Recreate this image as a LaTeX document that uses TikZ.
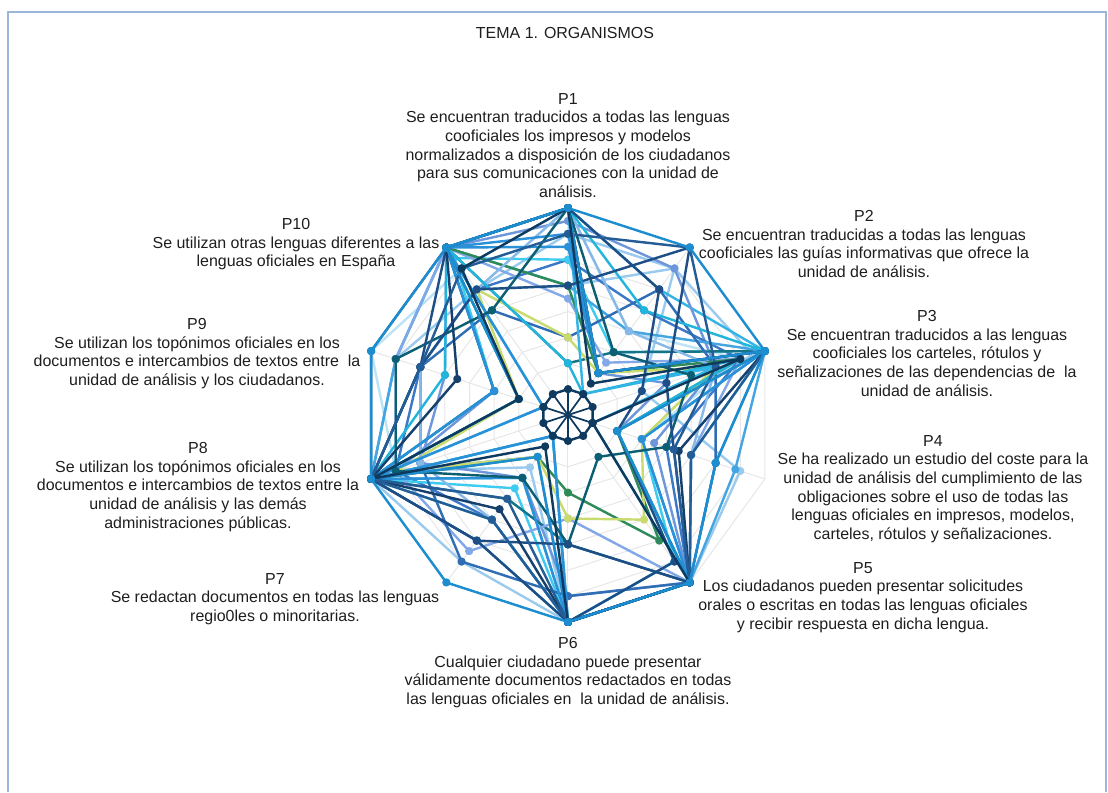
\documentclass[tikz,border=0pt]{standalone}
\usepackage{fontspec}
\setmainfont{Liberation Sans}
\usepackage{tikz}

\definecolor{navyA}{HTML}{0F3A5F}
\definecolor{navyB}{HTML}{1D4F86}
\definecolor{navyC}{HTML}{16406B}
\definecolor{darkA}{HTML}{245C96}
\definecolor{midA}{HTML}{1C8DCF}
\definecolor{midB}{HTML}{2A90D8}
\definecolor{skyA}{HTML}{34B4E4}
\definecolor{skyB}{HTML}{45A5E0}
\definecolor{cyanA}{HTML}{3DCBEF}
\definecolor{cyanB}{HTML}{22B5DC}
\definecolor{lightB}{HTML}{9ACBEE}
\definecolor{lightC}{HTML}{86B9E8}
\definecolor{pale}{HTML}{BCE3F6}
\definecolor{periA}{HTML}{6E96DB}
\definecolor{periB}{HTML}{82A8E8}
\definecolor{steelA}{HTML}{3C78C8}
\definecolor{blueC}{HTML}{2F6DB5}
\definecolor{tealA}{HTML}{157488}
\definecolor{tealB}{HTML}{0C5E72}
\definecolor{greenA}{HTML}{2E8B57}
\definecolor{ygreen}{HTML}{C9DA6E}
\definecolor{gridgray}{HTML}{E6E6E6}
\definecolor{frameblue}{HTML}{9AB7DB}
\definecolor{txtgray}{HTML}{1E1E1E}

% one level of the scale (8 levels)
\newcommand{\nivel}{25.875}
% one answer line: colour, ten values P1..P10
\newcommand{\radarserie}[2]{%
  \draw[serie,#1] plot[mark=*,variable=\k,samples at={0,...,9}]
     ({90-36*\k}:{\nivel*array({#2},\k)}) -- cycle;}

\begin{document}
\begin{tikzpicture}[x=0.35mm,y=0.35mm,
  serie/.style={line width=0.85mm,line join=round,mark size=1mm},
  rejilla/.style={draw=gridgray,line width=0.35mm},
  rotulo/.style={anchor=north,align=center,inner sep=0pt,text=txtgray,
    font=\fontsize{15.9}{18.6}\selectfont},
  marco/.style={draw=frameblue,line width=0.5mm}]
\useasboundingbox (-568,-377) rectangle (540,415);

% frame
\draw[marco] (-560,-377) |- (538,403) -- (538,-377);

% grid
\foreach \l in {1,...,8}
  \draw[rejilla] (90:{\l*\nivel}) \foreach \k in {1,...,9}{ -- ({90-36*\k}:{\l*\nivel})} -- cycle;
\foreach \k in {0,...,9}
  \draw[rejilla] (0,0) -- ({90-36*\k}:207);

% answers
\radarserie{pale}{8,4,7,3,8,8,2,7,8,7}
\radarserie{lightB}{7,7,7.5,2,7,8,2.5,7,7,6}
\radarserie{lightB}{5,7,3,7,8,8,7,8,6,6}
\radarserie{skyA}{8,6,8,3,8,8,3,8,7,8}
\radarserie{periA}{7.5,7,6,3.5,8,7,3,6,5,8}
\radarserie{periA}{8,2,4,2,8,8,2,7,3,8}
\radarserie{steelA}{6,5,7,4,8,8,5,7,6,6}
\radarserie{cyanA}{6,3,8,3,7,8,3.5,8,3,7.5}
\radarserie{tealA}{2,3,8,2,8,5,4,8,3,8}
\radarserie{skyB}{5,4,8,6.8,8,8,6,8,7,8}
\radarserie{periB}{4.5,2.5,7,5,8,4,6.5,7,7,8}
\radarserie{blueC}{3,6,6,6,8,7,7,6,6,5}
\radarserie{greenA}{5,2,7,2,6,3,2,8,2,8}
\radarserie{ygreen}{3,2,6,3,5,4,2,7,2,6}
\radarserie{lightC}{8,4,6,5,8,8,5,6,6,6}
\radarserie{cyanB}{8,5,8,5,8,8,5,8,5,8}
\radarserie{cyanB}{2,1,7,2,8,8,1,8,2,8}
\radarserie{skyA}{8,1,6,1,8,8,1,8,1,8}
\radarserie{midB}{6.5,2,8,3,8,8,3,8,3,8}
\radarserie{midB}{7,2,8,6,8,8,1,8,1,8}
\radarserie{tealB}{8,3,5,4,2,5,3,7,7,5}
\radarserie{navyB}{5,8,4,4.3,8,5,6,8,6,6}
\radarserie{navyB}{8,6,3,2,7,8,6,8,6,8}
\radarserie{navyC}{8,2,8,4.5,8,8,4.5,8,4.5,8}
\radarserie{darkA}{7,8,6,4.3,8,8,4,8,6,7}
\radarserie{darkA}{8,2,8,5,8,8,5,8,8,8}
\radarserie{midA}{8,2,8,2,8,8,2,8,2,8}
\radarserie{navyA}{8,1.5,7,1,8,8,1.5,8,2,7}
\radarserie{midA}{8,8,8,6,8,8,8,8,8,8}
\radarserie{navyA}{1,1,1,1,1,1,1,1,1,1}
\foreach \k in {0,...,9}
  \draw[navyA,line width=0.6mm] (0,0) -- ({90-36*\k}:\nivel);

% title and questions
\node[rotulo,anchor=center] (titulo) at (-3,382) {TEMA 1. ORGANISMOS};
\node[rotulo] (p1) at (0,322) {P1\\Se encuentran traducidos a todas las lenguas\\cooficiales los impresos y modelos\\normalizados a disposición de los ciudadanos\\para sus comunicaciones con la unidad de\\análisis.};
\node[rotulo] (p2) at (296,205) {P2\\Se encuentran traducidas a todas las lenguas\\cooficiales las guías informativas que ofrece la\\unidad de análisis.};
\node[rotulo] (p3) at (359,105) {P3\\Se encuentran traducidos a las lenguas\\cooficiales los carteles, rótulos y\\señalizaciones de las dependencias de~ la\\unidad de análisis.};
\node[rotulo] (p4) at (365,-20) {P4\\Se ha realizado un estudio del coste para la\\unidad de análisis del cumplimiento de las\\obligaciones sobre el uso de todas las\\lenguas oficiales en impresos, modelos,\\carteles, rótulos y señalizaciones.};
\node[rotulo] (p5) at (295,-147) {P5\\Los ciudadanos pueden presentar solicitudes\\orales o escritas en todas las lenguas oficiales\\y recibir respuesta en dicha lengua.};
\node[rotulo] (p6) at (0,-222) {P6\\Cualquier ciudadano puede presentar\\válidamente documentos redactados en todas\\las lenguas oficiales en~ la unidad de análisis.};
\node[rotulo] (p7) at (-293,-158) {P7\\Se redactan documentos en todas las lenguas\\regio0les o minoritarias.};
\node[rotulo] (p8) at (-370,-27) {P8\\Se utilizan los topónimos oficiales en los\\documentos e intercambios de textos entre la\\unidad de análisis y las demás\\administraciones públicas.};
\node[rotulo] (p9) at (-371,97) {P9\\Se utilizan los topónimos oficiales en los\\documentos e intercambios de textos entre~ la\\unidad de análisis y los ciudadanos.};
\node[rotulo] (p10) at (-272,197) {P10\\Se utilizan otras lenguas diferentes a las\\lenguas oficiales en España};

\end{tikzpicture}
\end{document}
